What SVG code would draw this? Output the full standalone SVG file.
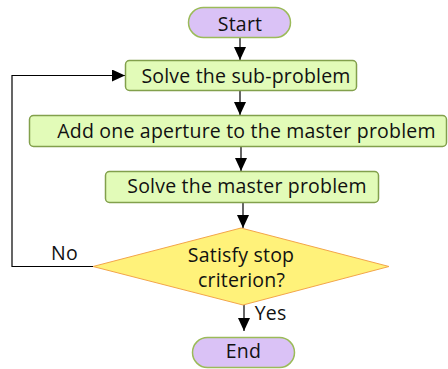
<svg xmlns="http://www.w3.org/2000/svg" width="448" height="369" viewBox="0 0 448 369">
  <style>
    .term { fill: #dac2f6; stroke: #9bbb59; stroke-width: 1.5; }
    .proc { fill: #e2fbb8; stroke: #82a04c; stroke-width: 1.5; }
    .dec { fill: #fff27a; stroke: #f3a54a; stroke-width: 1; }
    .lbl { font-family: "Open Sans", "Noto Sans", sans-serif; font-size: 19.5px; letter-spacing: 0.2px; fill: #111; text-anchor: middle; }
    .edge { fill: none; stroke: #000; stroke-width: 1.2; }
  </style>
  <defs>
    <marker id="arrow" viewBox="0 0 13 12" refX="13" refY="6" markerWidth="13" markerHeight="12" markerUnits="userSpaceOnUse" orient="auto">
      <path d="M0,0 L13,6 L0,12 z" fill="#000"/>
    </marker>
  </defs>

  <g id="connectors">
    <line class="edge" x1="240" y1="37" x2="240" y2="60" marker-end="url(#arrow)"/>
    <line class="edge" x1="240" y1="90" x2="240" y2="115" marker-end="url(#arrow)"/>
    <line class="edge" x1="241" y1="146" x2="241" y2="171" marker-end="url(#arrow)"/>
    <line class="edge" x1="243" y1="202" x2="243" y2="228" marker-end="url(#arrow)"/>
    <line class="edge" x1="244" y1="305" x2="244" y2="331" marker-end="url(#arrow)"/>
    <polyline class="edge" points="93,266.5 12,266.5 12,75.5 125,75.5" marker-end="url(#arrow)"/>
    <text class="lbl" x="64.5" y="260">No</text>
    <text class="lbl" x="270.5" y="320">Yes</text>
  </g>

  <g id="start">
    <rect class="term" x="188.5" y="7.5" width="102" height="30" rx="15"/>
    <text class="lbl" x="240" y="31">Start</text>
  </g>

  <g id="solve-sub">
    <rect class="proc" x="125.5" y="60.5" width="231" height="30" rx="4"/>
    <text class="lbl" x="246" y="83">Solve the sub-problem</text>
  </g>

  <g id="add-aperture">
    <rect class="proc" x="29.5" y="115.5" width="417" height="31" rx="4"/>
    <text class="lbl" x="246.5" y="138">Add one aperture to the master problem</text>
  </g>

  <g id="solve-master">
    <rect class="proc" x="105.5" y="171.5" width="273" height="31" rx="4"/>
    <text class="lbl" x="247" y="193">Solve the master problem</text>
  </g>

  <g id="stop-check">
    <polygon class="dec" points="241,228 389,266.5 243,305 93,266.5"/>
    <text class="lbl" x="241" y="262">Satisfy stop</text>
    <text class="lbl" x="241.5" y="287">criterion?</text>
  </g>

  <g id="end">
    <rect class="term" x="192.5" y="337.5" width="102" height="30" rx="15"/>
    <text class="lbl" x="243.5" y="358">End</text>
  </g>
</svg>
